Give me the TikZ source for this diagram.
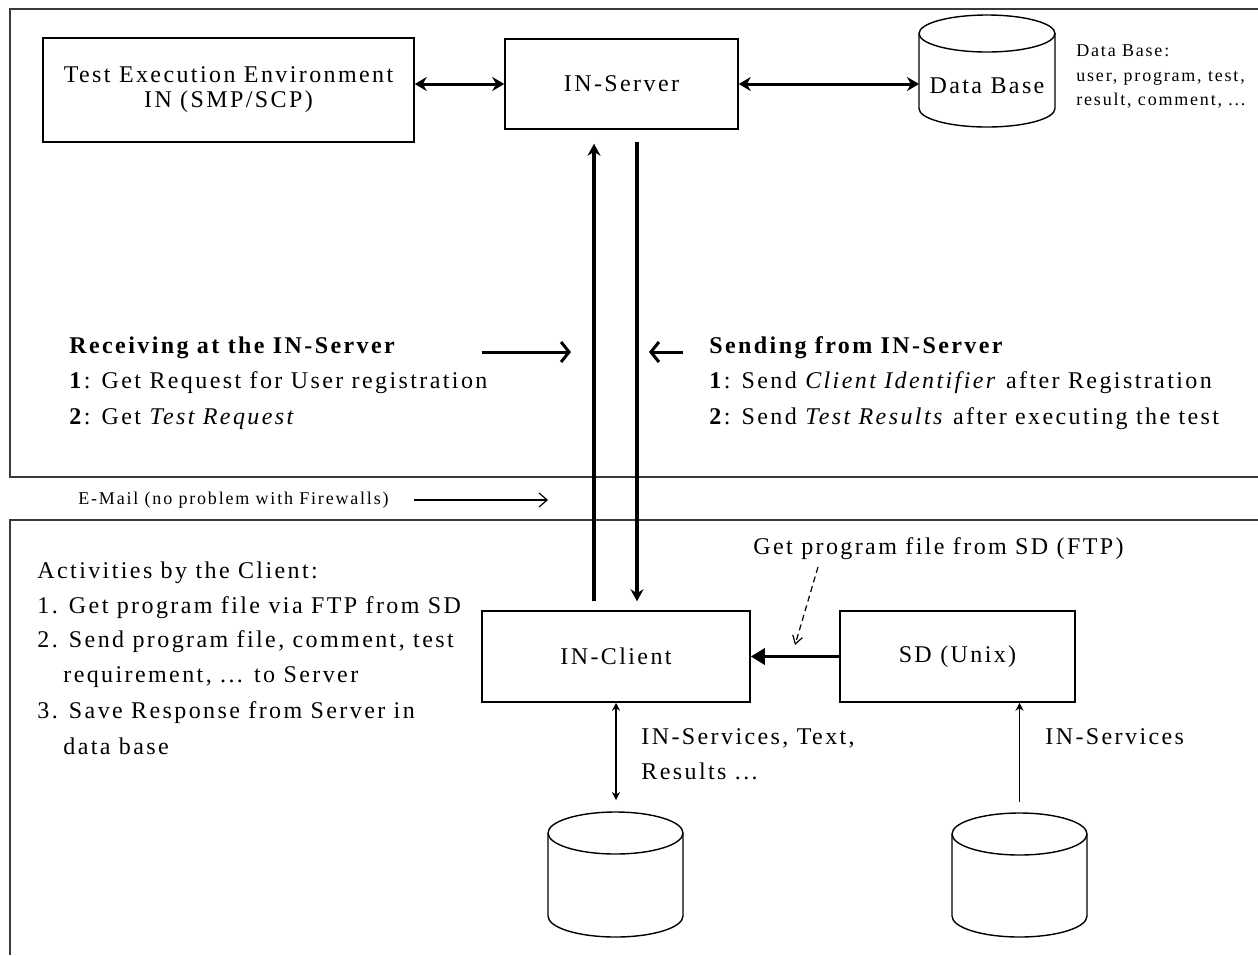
\documentclass[tikz,border=0pt]{standalone}
\usepackage{fontspec}
\setmainfont{Liberation Serif}[LetterSpace=10]
\usepackage{tikz}
\usetikzlibrary{shapes.geometric, arrows.meta, positioning}
\definecolor{framegray}{HTML}{3A3A3A}

% data base drum: node name, half width, cap radius
\newcommand{\dbshape}[3]{%
  \draw[dbline] ([yshift=-#3]#1.north west) -- ([yshift=#3]#1.south west)
    arc[start angle=180, end angle=360, x radius=#2, y radius=#3]
    -- ([yshift=-#3]#1.north east);
  \draw[dbline] ([yshift=-#3]#1.north) ellipse [x radius=#2, y radius=#3];
}

\begin{document}
\begin{tikzpicture}[
    x=0.5pt, y=-0.5pt,
    frame/.style={draw=framegray, line width=1.1pt},
    box/.style={rectangle, draw, line width=0.75pt, inner sep=0pt, align=center, font=\fontsize{12}{12.5}\selectfont},
    dbnode/.style={rectangle, inner sep=0pt, outer sep=0pt},
    dbline/.style={line width=0.7pt},
    txt/.style={anchor=west, inner sep=0pt, text height=8pt, text depth=2pt, font=\fontsize{12}{14}\selectfont},
    note/.style={anchor=west, inner sep=0pt, text height=6pt, text depth=1.5pt, font=\fontsize{9}{11}\selectfont},
    dblarrow/.style={{Stealth[length=6pt, width=7pt]}-{Stealth[length=6pt, width=7pt]}, line width=1.5pt},
    bigarrow/.style={-{Stealth[length=6pt, width=6.5pt]}, line width=1.7pt},
    barb/.style={-{Straight Barb[length=4pt, width=10pt]}, line width=1.5pt},
    mailarrow/.style={-{Straight Barb[length=4pt, width=7pt]}, line width=0.6pt},
    ftparrow/.style={-{Triangle[length=7pt, width=8pt]}, line width=1.6pt},
    hintarrow/.style={-{Straight Barb[length=4pt, width=5pt]}, line width=0.6pt, dash pattern=on 3pt off 2pt},
    thinarrow/.style={-{Stealth[length=4pt, width=4pt]}, line width=0.6pt},
    dblthin/.style={{Stealth[length=4pt, width=4pt]}-{Stealth[length=4pt, width=4pt]}, line width=0.6pt}
]
\useasboundingbox (0,0) rectangle (1258,955);

% Frames
\draw[frame] (1258,9) -- (10,9) -- (10,477) -- (1258,477);
\draw[frame] (1258,520) -- (10,520) -- (10,955);

% Server side
\node[box, minimum width=185.5pt, minimum height=52pt] (tee) at (228.5,90) {Test Execution Environment\\IN (SMP/SCP)};
\node[box, minimum width=116.5pt, minimum height=45pt] (srv) at (621.5,84) {IN-Server};
\node[dbnode, minimum width=68pt, minimum height=56pt] (db) at (987,71) {};
\dbshape{db}{34pt}{9.25pt}
\node[inner sep=0pt, font=\fontsize{12}{14}\selectfont] (dbtxt) at (987,86) {Data Base};

\node[note] (dbnote1) at (1076,52) {Data Base:};
\node[note] (dbnote2) at (1076,77) {user, program, test,};
\node[note] (dbnote3) at (1076,101) {result, comment, ...};

\draw[dblarrow] (tee.east |- srv) -- (srv.west);
\draw[dblarrow] (srv.east) -- (db.west |- srv);

% Client side
\node[box, minimum width=134pt, minimum height=45.5pt] (cli) at (616,656.5) {IN-Client};
\node[box, minimum width=117.5pt, minimum height=45.5pt] (sd) at (957.5,656.5) {SD (Unix)};
\node[dbnode, minimum width=67.5pt, minimum height=62.5pt] (dbl) at (615.5,874.5) {};
\node[dbnode, minimum width=67.5pt, minimum height=62pt] (dbr) at (1019.5,875) {};
\dbshape{dbl}{33.75pt}{10.5pt}
\dbshape{dbr}{33.75pt}{10.5pt}

% Mail traffic
\coordinate (upx) at (594,0);
\coordinate (dnx) at (637,0);
\draw[bigarrow, shorten <=4.5pt, shorten >=7pt] (upx |- cli.north) -- (upx |- srv.south);
\draw[bigarrow, shorten <=6pt, shorten >=4.5pt] (dnx |- srv.south) -- (dnx |- cli.north);

\node[txt] (rcv0) at (69,347) {\textbf{Receiving at the IN-Server}};
\node[txt] (rcv1) at (69,382) {\textbf{1}: Get Request for User registration};
\node[txt] (rcv2) at (69,418) {\textbf{2}: Get \textit{Test Request}};

\node[txt] (snd0) at (709,347) {\textbf{Sending from IN-Server}};
\node[txt] (snd1) at (709,382) {\textbf{1}: Send \textit{Client Identifier} after Registration};
\node[txt] (snd2) at (709,418) {\textbf{2}: Send \textit{Test Results} after executing the test};

\coordinate (rcvA) at (482,352);
\coordinate (rcvB) at (571,352);
\coordinate (sndA) at (683,352);
\coordinate (sndB) at (649,352);
\draw[barb] (rcvA) -- (rcvB);
\draw[barb] (sndA) -- (sndB);

\node[note] (mail) at (78,500) {E-Mail (no problem with Firewalls)};
\coordinate (mailA) at (414,500);
\coordinate (mailB) at (548,500);
\draw[mailarrow] (mailA) -- (mailB);

% Activities
\node[txt] (act0) at (37,572) {Activities by the Client:};
\node[txt] (act1) at (37,607) {1. Get program file via FTP from SD};
\node[txt] (act2) at (37,641) {2. Send program file, comment, test};
\node[txt] (act2b) at (63,676) {requirement, ... to Server};
\node[txt] (act3) at (37,712) {3. Save Response from Server in};
\node[txt] (act3b) at (63,748) {data base};

% FTP and services
\node[txt] (ftp) at (753,548) {Get program file from SD (FTP)};
\coordinate (ftpA) at (818,567);
\coordinate (ftpB) at (795,645);
\draw[ftparrow] (sd.west) -- (cli.east);
\draw[hintarrow] (ftpA) -- (ftpB);

\draw[dblthin, shorten >=6pt] (cli.south) -- (cli.south |- dbl.north);
\draw[thinarrow, shorten <=5.5pt] (dbr.north) -- (dbr.north |- sd.south);

\node[txt] (svc1) at (641,738) {IN-Services, Text,};
\node[txt] (svc2) at (641,773) {Results ...};
\node[txt] (svc3) at (1045,738) {IN-Services};

\end{tikzpicture}
\end{document}
